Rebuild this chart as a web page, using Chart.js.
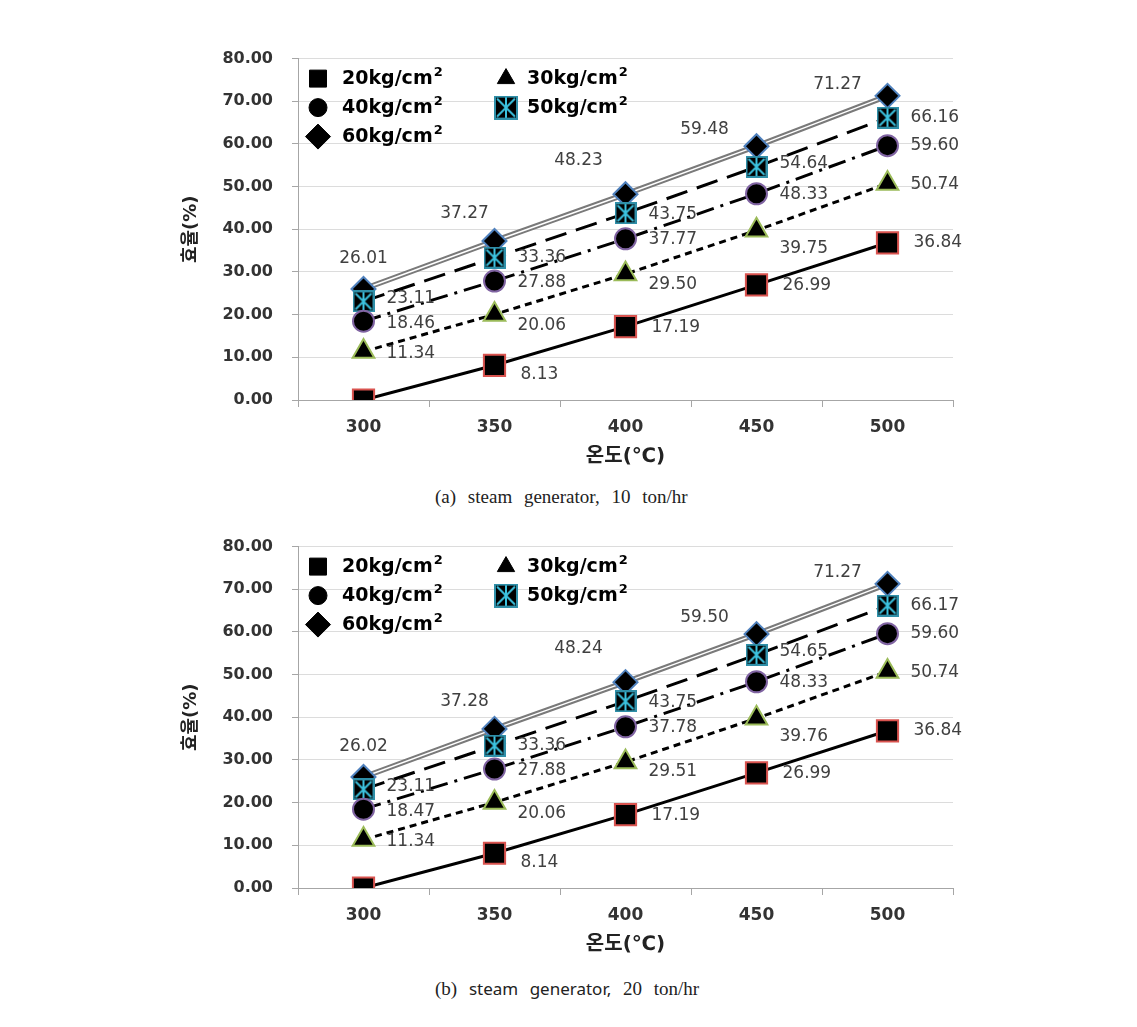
<!DOCTYPE html>
<html lang="ko">
<head>
<meta charset="utf-8">
<title>효율 vs 온도</title>
<script src="https://cdn.jsdelivr.net/npm/chart.js@4.4.0/dist/chart.umd.min.js"></script>
<style>
  body { margin: 0; background: #fff; width: 1137px; height: 1027px; position: relative; overflow: hidden; }
  canvas { position: absolute; left: 170px; }
  #chartA { top: 30px; }
  #chartB { top: 518px; }
  .cap { position: absolute; left: 435px; font-family: "Liberation Serif", "DejaVu Serif", serif; font-size: 19px; color: #222; word-spacing: 7px; white-space: nowrap; }
  .cap .sans { font-family: "Noto Sans", "DejaVu Sans", sans-serif; font-size: 17px; }
  #capA { top: 486px; }
  #capB { top: 977px; }
</style>
</head>
<body>
<canvas id="chartA" width="800" height="450"></canvas>
<canvas id="chartB" width="800" height="450"></canvas>
<div class="cap" id="capA">(a) steam generator, 10 ton/hr</div>
<div class="cap" id="capB">(b) <span class="sans">steam generator,</span> 20 ton/hr</div>
<script>
const temps = ['300', '350', '400', '450', '500'];
const seriesNames = ['20kg/cm', '30kg/cm', '40kg/cm', '50kg/cm', '60kg/cm'];

// (a) 10 ton/hr
const t10_p20 = [0.00, 8.13, 17.19, 26.99, 36.84];
const t10_p30 = [11.34, 20.06, 29.50, 39.75, 50.74];
const t10_p40 = [18.46, 27.88, 37.77, 48.33, 59.60];
const t10_p50 = [23.11, 33.36, 43.75, 54.64, 66.16];
const t10_p60 = [26.01, 37.27, 48.23, 59.48, 71.27];

// (b) 20 ton/hr
const t20_p20 = [0.00, 8.14, 17.19, 26.99, 36.84];
const t20_p30 = [11.34, 20.06, 29.51, 39.76, 50.74];
const t20_p40 = [18.47, 27.88, 37.78, 48.33, 59.60];
const t20_p50 = [23.11, 33.36, 43.75, 54.65, 66.17];
const t20_p60 = [26.02, 37.28, 48.24, 59.50, 71.27];

// where each value label sits relative to its point (null = no label)
const labelPos = [
  { dx: 26, dy: [null, 9, 1, 1, 0], align: 'left' },
  { dx: 23, dy: [2, 11, 10, 18, 1], align: 'left' },
  { dx: 23, dy: [2, 2, 1, 1, 0], align: 'left' },
  { dx: 23, dy: [-3, 0, 1, -3, 0], align: 'left' },
  { dx: [0, -30, -47, -52, -50], dy: [-30, -27, -34, -17, -11], align: 'center' }
];

function boxStar(size) {
  const c = document.createElement('canvas');
  c.width = c.height = size;
  const g = c.getContext('2d');
  g.fillStyle = '#000';
  g.fillRect(0, 0, size, size);
  g.strokeStyle = '#2f8fa8';
  g.lineWidth = 2;
  g.strokeRect(1, 1, size - 2, size - 2);
  g.strokeStyle = '#3cc3e0';
  g.lineWidth = 2;
  g.beginPath();
  g.moveTo(3, 3); g.lineTo(size - 3, size - 3);
  g.moveTo(size - 3, 3); g.lineTo(3, size - 3);
  g.moveTo(size / 2, 2); g.lineTo(size / 2, size - 2);
  g.stroke();
  return c;
}
const starMark = boxStar(22);
const starLegend = boxStar(24);

const seriesStyle = [
  { dash: [], point: 'rect', radius: 15, edge: '#d9534f' },
  { dash: [7, 5], point: 'triangle', radius: 12.5, edge: '#9bbb59' },
  { dash: [18, 7, 3, 7], point: 'circle', radius: 10.5, edge: '#8064a2' },
  { dash: [22, 10], point: starMark, radius: 11, edge: '#4bacc6' },
  { dash: [], point: 'rectRot', radius: 12, edge: '#4f81bd', double: true }
];
const legendMark = [
  { point: 'rect', radius: 12 },
  { point: 'triangle', radius: 10 },
  { point: 'circle', radius: 9 },
  { point: starLegend, radius: 12 },
  { point: 'rectRot', radius: 12.5 }
];

function buildDatasets(vals) {
  const out = [];
  vals.forEach((data, s) => {
    const st = seriesStyle[s];
    out.push({
      label: seriesNames[s] + '²',
      data: data,
      seriesIndex: s,
      borderColor: '#000',
      borderWidth: 3,
      borderDash: st.dash,
      showLine: !st.double,
      pointStyle: st.point,
      pointRadius: st.radius,
      pointBackgroundColor: '#000',
      pointBorderColor: st.edge,
      pointBorderWidth: 2,
      tension: 0,
      order: 1
    });
    if (st.double) {
      // compound gray line: dark outer stroke with a white core
      out.push({ helper: true, data: data, borderColor: '#7a7a7a', borderWidth: 5.5, pointRadius: 0, order: 6 });
      out.push({ helper: true, data: data, borderColor: '#ffffff', borderWidth: 1.5, pointRadius: 0, order: 5 });
    }
  });
  return out;
}

const valueLabels = {
  id: 'valueLabels',
  afterDatasetsDraw(chart) {
    const ctx = chart.ctx;
    ctx.save();
    ctx.font = '17px "DejaVu Sans"';
    ctx.fillStyle = '#404040';
    ctx.textBaseline = 'middle';
    chart.data.datasets.forEach((ds, di) => {
      if (ds.helper) return;
      const pos = labelPos[ds.seriesIndex];
      chart.getDatasetMeta(di).data.forEach((pt, i) => {
        const dy = pos.dy[i];
        if (dy === null) return;
        const dx = Array.isArray(pos.dx) ? pos.dx[i] : pos.dx;
        ctx.textAlign = pos.align;
        ctx.fillText(ds.data[i].toFixed(2), pt.x + dx, pt.y + dy);
      });
    });
    ctx.restore();
  }
};

const innerLegend = {
  id: 'innerLegend',
  afterDraw(chart) {
    const ctx = chart.ctx;
    const area = chart.chartArea;
    const rows = [20, 49, 78];
    const cols = [{ sym: 20, txt: 44 }, { sym: 208, txt: 229 }];
    ctx.save();
    seriesNames.forEach((name, s) => {
      const col = cols[s % 2];
      const y = area.top + rows[Math.floor(s / 2)];
      const x = area.left + col.sym;
      const lm = legendMark[s];
      ctx.fillStyle = '#000';
      ctx.strokeStyle = '#000';
      ctx.lineWidth = 1;
      Chart.helpers.drawPoint(ctx, { pointStyle: lm.point, radius: lm.radius, rotation: 0, borderWidth: 1 }, x, y);
      ctx.textAlign = 'left';
      ctx.textBaseline = 'middle';
      ctx.font = 'bold 19px "DejaVu Sans"';
      const tx = area.left + col.txt;
      ctx.fillText(name, tx, y);
      const w = ctx.measureText(name).width;
      ctx.font = 'bold 13px "DejaVu Sans"';
      ctx.fillText('2', tx + w + 1, y - 6);
    });
    ctx.restore();
  }
};

function makeChart(id, vals) {
  return new Chart(document.getElementById(id), {
    type: 'line',
    data: { labels: temps, datasets: buildDatasets(vals) },
    plugins: [valueLabels, innerLegend],
    options: {
      responsive: false,
      animation: false,
      devicePixelRatio: 1,
      layout: { padding: { left: 0, right: 13, top: 26, bottom: 0 } },
      plugins: { legend: { display: false }, tooltip: { enabled: false } },
      scales: {
        x: {
          offset: true,
          grid: { offset: true, drawOnChartArea: false, tickLength: 7, color: '#a6a6a6' },
          border: { color: '#a6a6a6' },
          ticks: { padding: 10, color: '#333', font: { family: 'DejaVu Sans', size: 17, weight: 'bold' } },
          title: {
            display: true, text: '온도(℃)', color: '#222',
            font: { family: '"DejaVu Sans", "Noto Sans CJK KR"', size: 20, weight: 'bold' },
            padding: { top: 0, bottom: 11 }
          },
          afterFit(s) { s.height = 80; }
        },
        y: {
          min: 0, max: 80,
          grid: { color: '#dcdcdc', tickLength: 6, tickColor: '#a6a6a6' },
          border: { color: '#a6a6a6' },
          ticks: {
            stepSize: 10, padding: 19, color: '#333',
            font: { family: 'DejaVu Sans', size: 16, weight: 'bold' },
            callback: v => v.toFixed(2)
          },
          title: {
            display: true, text: '효율(%)', color: '#222',
            font: { family: '"DejaVu Sans", "Noto Sans CJK KR"', size: 18, weight: 'bold' },
            padding: { top: 11, bottom: 0 }
          },
          afterFit(s) { s.width = 128; }
        }
      }
    }
  });
}

makeChart('chartA', [t10_p20, t10_p30, t10_p40, t10_p50, t10_p60]);
makeChart('chartB', [t20_p20, t20_p30, t20_p40, t20_p50, t20_p60]);
</script>
</body>
</html>
